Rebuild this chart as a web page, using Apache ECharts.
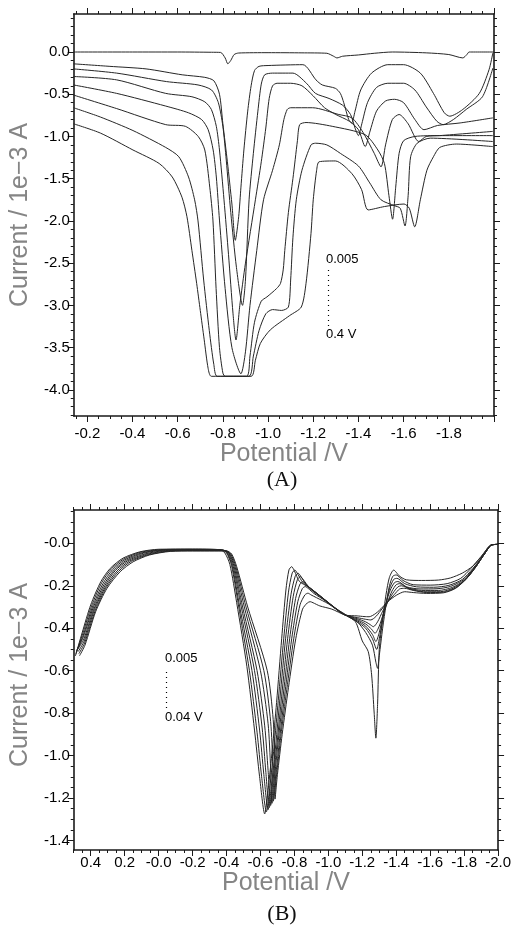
<!DOCTYPE html>
<html><head><meta charset="utf-8">
<script src="https://cdn.jsdelivr.net/npm/echarts@6/dist/echarts.min.js"></script>
<style>html,body{margin:0;padding:0;background:#fff}#c{width:514px;height:928px}</style>
</head><body><div id="c"></div>
<script>
// ---------- Panel A data (Potential V, Current 1e-3 A) ----------
const a0 = [[-0.139,0],[-0.40,0],[-0.60,0],[-0.75,-0.003],[-0.79,-0.005],[-0.81,-0.07],[-0.822,-0.14],[-0.835,-0.10],[-0.85,-0.03],[-0.87,-0.012],[-1.0,-0.008],[-1.15,-0.01],[-1.26,-0.015],[-1.29,-0.05],[-1.305,-0.07],[-1.33,-0.05],[-1.40,-0.035],[-1.47,-0.015],[-1.55,0],[-1.70,-0.01],[-1.80,-0.03],[-1.862,-0.07],[-1.88,-0.03],[-1.89,0],[-2.0,0]];
const a1 = [[-0.139,-0.14],[-0.30,-0.17],[-0.46,-0.20],[-0.62,-0.27],[-0.72,-0.30],[-0.76,-0.34],[-0.785,-0.50],[-0.80,-0.85],[-0.82,-1.3],[-0.84,-1.8],[-0.855,-2.23],[-0.87,-1.95],[-0.88,-1.6],[-0.893,-1.16],[-0.91,-0.7],[-0.925,-0.4],[-0.94,-0.22],[-0.96,-0.17],[-1.0,-0.16],[-1.154,-0.15],[-1.212,-0.33],[-1.24,-0.39],[-1.298,-0.43],[-1.32,-0.49],[-1.335,-0.60],[-1.357,-0.80],[-1.37,-0.84],[-1.385,-0.70],[-1.41,-0.45],[-1.458,-0.25],[-1.53,-0.15],[-1.60,-0.15],[-1.674,-0.25],[-1.732,-0.49],[-1.78,-0.72],[-1.804,-0.76],[-1.862,-0.68],[-1.935,-0.49],[-1.978,-0.21],[-1.995,-0.01]];
const a2 = [[-0.139,-0.20],[-0.33,-0.25],[-0.55,-0.35],[-0.69,-0.39],[-0.75,-0.45],[-0.78,-0.60],[-0.80,-0.88],[-0.815,-1.28],[-0.835,-1.9],[-0.86,-2.55],[-0.887,-3.0],[-0.90,-2.7],[-0.916,-1.75],[-0.935,-1.2],[-0.955,-0.7],[-0.97,-0.38],[-0.985,-0.27],[-1.02,-0.25],[-1.11,-0.25],[-1.17,-0.37],[-1.21,-0.49],[-1.27,-0.55],[-1.33,-0.63],[-1.365,-0.74],[-1.385,-0.90],[-1.40,-0.99],[-1.415,-0.85],[-1.44,-0.6],[-1.48,-0.42],[-1.53,-0.37],[-1.60,-0.37],[-1.65,-0.45],[-1.70,-0.65],[-1.747,-0.82],[-1.775,-0.86],[-1.82,-0.80],[-1.877,-0.68],[-1.949,-0.53],[-1.995,-0.19]];
const a3 = [[-0.139,-0.29],[-0.33,-0.33],[-0.547,-0.49],[-0.663,-0.53],[-0.72,-0.59],[-0.749,-0.68],[-0.771,-0.88],[-0.785,-1.16],[-0.805,-1.75],[-0.825,-2.4],[-0.845,-3.1],[-0.858,-3.41],[-0.875,-3.0],[-0.90,-2.5],[-0.944,-1.75],[-0.97,-1.3],[-0.99,-0.9],[-1.005,-0.55],[-1.02,-0.40],[-1.04,-0.37],[-1.10,-0.37],[-1.15,-0.40],[-1.20,-0.52],[-1.25,-0.66],[-1.30,-0.74],[-1.36,-0.82],[-1.40,-0.92],[-1.43,-1.12],[-1.45,-0.95],[-1.48,-0.70],[-1.52,-0.58],[-1.56,-0.56],[-1.60,-0.60],[-1.65,-0.80],[-1.69,-0.92],[-1.75,-0.87],[-1.85,-0.84],[-1.995,-0.78]];
const a4 = [[-0.139,-0.39],[-0.33,-0.49],[-0.547,-0.64],[-0.648,-0.72],[-0.706,-0.80],[-0.735,-0.92],[-0.757,-1.16],[-0.771,-1.48],[-0.785,-1.99],[-0.81,-2.8],[-0.84,-3.5],[-0.88,-3.81],[-0.90,-3.55],[-0.92,-3.0],[-0.95,-2.35],[-0.98,-1.75],[-1.02,-1.4],[-1.05,-1.1],[-1.07,-0.8],[-1.085,-0.68],[-1.10,-0.66],[-1.197,-0.66],[-1.313,-0.74],[-1.371,-0.78],[-1.42,-0.95],[-1.47,-1.2],[-1.50,-1.36],[-1.52,-1.1],[-1.55,-0.80],[-1.58,-0.74],[-1.62,-0.85],[-1.667,-1.06],[-1.70,-1.0],[-1.76,-0.99],[-1.995,-0.94]];
const a5 = [[-0.139,-0.51],[-0.33,-0.67],[-0.547,-0.86],[-0.634,-0.88],[-0.691,-1.0],[-0.72,-1.16],[-0.742,-1.6],[-0.756,-1.99],[-0.77,-2.8],[-0.785,-3.5],[-0.80,-3.8],[-0.81,-3.84],[-0.905,-3.84],[-0.92,-3.6],[-0.94,-3.2],[-0.97,-2.95],[-0.995,-2.9],[-1.038,-2.8],[-1.055,-2.74],[-1.067,-2.58],[-1.074,-2.35],[-1.09,-1.9],[-1.11,-1.5],[-1.13,-1.05],[-1.14,-0.86],[-1.168,-0.835],[-1.284,-0.88],[-1.43,-0.98],[-1.486,-1.16],[-1.515,-1.32],[-1.535,-1.7],[-1.551,-1.98],[-1.565,-1.6],[-1.58,-1.2],[-1.60,-1.05],[-1.65,-1.0],[-1.76,-0.99],[-1.995,-0.99]];
const a6 = [[-0.139,-0.66],[-0.258,-0.77],[-0.402,-0.93],[-0.547,-1.13],[-0.605,-1.24],[-0.648,-1.48],[-0.675,-1.75],[-0.69,-2.0],[-0.715,-2.7],[-0.74,-3.3],[-0.76,-3.7],[-0.775,-3.84],[-0.915,-3.84],[-0.935,-3.6],[-0.96,-3.3],[-0.99,-3.1],[-1.02,-3.05],[-1.06,-3.06],[-1.09,-3.02],[-1.10,-2.7],[-1.11,-2.2],[-1.125,-1.75],[-1.15,-1.4],[-1.19,-1.1],[-1.21,-1.08],[-1.26,-1.1],[-1.32,-1.2],[-1.40,-1.35],[-1.45,-1.55],[-1.50,-1.75],[-1.56,-1.82],[-1.585,-1.85],[-1.606,-2.06],[-1.62,-1.7],[-1.631,-1.24],[-1.66,-1.08],[-1.718,-1.02],[-1.995,-1.06]];
const a7 = [[-0.139,-0.85],[-0.258,-0.96],[-0.402,-1.16],[-0.518,-1.32],[-0.576,-1.48],[-0.619,-1.72],[-0.641,-1.95],[-0.663,-2.35],[-0.684,-2.74],[-0.70,-3.06],[-0.717,-3.4],[-0.735,-3.75],[-0.749,-3.84],[-0.925,-3.84],[-0.944,-3.65],[-0.966,-3.45],[-1.01,-3.29],[-1.096,-3.12],[-1.147,-3.02],[-1.168,-2.74],[-1.19,-2.15],[-1.20,-1.75],[-1.215,-1.4],[-1.226,-1.30],[-1.298,-1.29],[-1.371,-1.44],[-1.414,-1.63],[-1.443,-1.87],[-1.515,-1.83],[-1.602,-1.80],[-1.625,-1.85],[-1.649,-2.07],[-1.674,-1.75],[-1.703,-1.40],[-1.732,-1.24],[-1.76,-1.13],[-1.833,-1.09],[-1.995,-1.12]];

// ---------- Panel B data ----------
const b0 = [[0.49,-0.53],[0.45,-0.42],[0.40,-0.29],[0.34,-0.18],[0.285,-0.118],[0.21,-0.07],[0.11,-0.04],[0.0,-0.028],[-0.2,-0.027],[-0.36,-0.03],[-0.39,-0.045],[-0.42,-0.10],[-0.46,-0.28],[-0.52,-0.58],[-0.565,-0.88],[-0.595,-1.10],[-0.625,-1.275],[-0.645,-1.16],[-0.67,-0.97],[-0.695,-0.75],[-0.725,-0.45],[-0.75,-0.22],[-0.768,-0.125],[-0.784,-0.11],[-0.80,-0.13],[-0.83,-0.18],[-0.88,-0.205],[-1.03,-0.30],[-1.10,-0.335],[-1.16,-0.37],[-1.20,-0.46],[-1.235,-0.51],[-1.255,-0.62],[-1.27,-0.80],[-1.28,-0.918],[-1.29,-0.76],[-1.30,-0.50],[-1.32,-0.36],[-1.34,-0.24],[-1.36,-0.16],[-1.385,-0.126],[-1.42,-0.155],[-1.46,-0.172],[-1.55,-0.175],[-1.65,-0.173],[-1.72,-0.163],[-1.79,-0.14],[-1.85,-0.108],[-1.91,-0.055],[-1.955,-0.008],[-2.0,-0.005]];
const b1 = [[0.487,-0.52],[0.447,-0.425],[0.395,-0.295],[0.335,-0.185],[0.278,-0.12],[0.205,-0.074],[0.105,-0.042],[-0.01,-0.03],[-0.2,-0.028],[-0.37,-0.03],[-0.40,-0.045],[-0.43,-0.105],[-0.47,-0.29],[-0.535,-0.60],[-0.58,-0.89],[-0.607,-1.10],[-0.635,-1.265],[-0.655,-1.15],[-0.68,-0.96],[-0.705,-0.74],[-0.737,-0.45],[-0.765,-0.23],[-0.787,-0.14],[-0.803,-0.126],[-0.82,-0.145],[-0.85,-0.185],[-0.90,-0.215],[-1.05,-0.31],[-1.10,-0.337],[-1.17,-0.37],[-1.22,-0.42],[-1.26,-0.48],[-1.28,-0.56],[-1.29,-0.589],[-1.30,-0.53],[-1.32,-0.40],[-1.34,-0.29],[-1.36,-0.20],[-1.38,-0.155],[-1.40,-0.149],[-1.44,-0.175],[-1.50,-0.195],[-1.60,-0.197],[-1.70,-0.19],[-1.78,-0.165],[-1.84,-0.118],[-1.90,-0.062],[-1.955,-0.01],[-2.0,-0.005]];
const b2 = [[0.484,-0.51],[0.445,-0.435],[0.39,-0.30],[0.328,-0.19],[0.27,-0.123],[0.198,-0.077],[0.098,-0.045],[-0.02,-0.031],[-0.2,-0.029],[-0.375,-0.031],[-0.405,-0.046],[-0.435,-0.11],[-0.478,-0.30],[-0.55,-0.60],[-0.595,-0.88],[-0.62,-1.09],[-0.645,-1.255],[-0.665,-1.14],[-0.69,-0.95],[-0.715,-0.73],[-0.748,-0.45],[-0.78,-0.24],[-0.805,-0.155],[-0.822,-0.141],[-0.84,-0.158],[-0.87,-0.195],[-0.92,-0.228],[-1.06,-0.318],[-1.10,-0.338],[-1.17,-0.37],[-1.22,-0.40],[-1.26,-0.45],[-1.285,-0.50],[-1.30,-0.45],[-1.32,-0.36],[-1.34,-0.285],[-1.36,-0.215],[-1.385,-0.17],[-1.405,-0.165],[-1.45,-0.19],[-1.52,-0.205],[-1.62,-0.207],[-1.71,-0.198],[-1.79,-0.17],[-1.85,-0.12],[-1.91,-0.06],[-1.955,-0.01],[-2.0,-0.005]];
const b3 = [[0.48,-0.50],[0.443,-0.44],[0.386,-0.305],[0.322,-0.195],[0.262,-0.126],[0.19,-0.08],[0.09,-0.047],[-0.03,-0.032],[-0.2,-0.03],[-0.38,-0.032],[-0.41,-0.047],[-0.44,-0.11],[-0.487,-0.30],[-0.565,-0.60],[-0.61,-0.87],[-0.632,-1.08],[-0.652,-1.245],[-0.672,-1.13],[-0.698,-0.94],[-0.725,-0.72],[-0.76,-0.45],[-0.793,-0.25],[-0.818,-0.17],[-0.835,-0.157],[-0.853,-0.172],[-0.885,-0.205],[-0.94,-0.24],[-1.07,-0.325],[-1.10,-0.338],[-1.17,-0.365],[-1.22,-0.39],[-1.26,-0.43],[-1.28,-0.463],[-1.30,-0.42],[-1.32,-0.345],[-1.34,-0.28],[-1.365,-0.22],[-1.39,-0.185],[-1.41,-0.18],[-1.46,-0.205],[-1.54,-0.215],[-1.64,-0.214],[-1.72,-0.203],[-1.80,-0.17],[-1.86,-0.115],[-1.92,-0.05],[-1.96,-0.008],[-2.0,-0.005]];
const b4 = [[0.477,-0.50],[0.44,-0.45],[0.382,-0.31],[0.317,-0.2],[0.255,-0.128],[0.182,-0.082],[0.08,-0.05],[-0.04,-0.034],[-0.2,-0.032],[-0.385,-0.033],[-0.415,-0.048],[-0.445,-0.11],[-0.495,-0.30],[-0.58,-0.60],[-0.625,-0.86],[-0.645,-1.07],[-0.66,-1.235],[-0.68,-1.12],[-0.705,-0.93],[-0.735,-0.71],[-0.772,-0.45],[-0.807,-0.26],[-0.833,-0.192],[-0.851,-0.181],[-0.868,-0.193],[-0.90,-0.22],[-0.96,-0.255],[-1.08,-0.33],[-1.10,-0.338],[-1.17,-0.36],[-1.22,-0.38],[-1.255,-0.405],[-1.275,-0.424],[-1.30,-0.39],[-1.325,-0.33],[-1.35,-0.275],[-1.375,-0.225],[-1.40,-0.195],[-1.42,-0.19],[-1.47,-0.21],[-1.55,-0.222],[-1.65,-0.222],[-1.73,-0.208],[-1.80,-0.175],[-1.86,-0.115],[-1.92,-0.05],[-1.96,-0.008],[-2.0,-0.005]];
const b5 = [[0.474,-0.51],[0.438,-0.46],[0.378,-0.313],[0.312,-0.204],[0.245,-0.13],[0.172,-0.084],[0.07,-0.052],[-0.05,-0.036],[-0.2,-0.034],[-0.39,-0.034],[-0.42,-0.05],[-0.45,-0.11],[-0.505,-0.30],[-0.60,-0.60],[-0.645,-0.85],[-0.66,-1.06],[-0.668,-1.225],[-0.688,-1.11],[-0.713,-0.92],[-0.745,-0.70],[-0.784,-0.45],[-0.82,-0.275],[-0.847,-0.213],[-0.864,-0.204],[-0.882,-0.213],[-0.915,-0.236],[-0.98,-0.27],[-1.09,-0.335],[-1.10,-0.338],[-1.17,-0.355],[-1.22,-0.37],[-1.25,-0.385],[-1.265,-0.393],[-1.29,-0.37],[-1.32,-0.32],[-1.35,-0.275],[-1.38,-0.235],[-1.41,-0.205],[-1.43,-0.2],[-1.48,-0.215],[-1.56,-0.228],[-1.66,-0.228],[-1.74,-0.21],[-1.81,-0.17],[-1.87,-0.11],[-1.92,-0.05],[-1.96,-0.008],[-2.0,-0.005]];
const b6 = [[0.47,-0.52],[0.436,-0.47],[0.374,-0.318],[0.308,-0.208],[0.236,-0.132],[0.161,-0.085],[0.062,-0.054],[-0.06,-0.037],[-0.2,-0.035],[-0.395,-0.035],[-0.425,-0.05],[-0.455,-0.11],[-0.515,-0.30],[-0.62,-0.60],[-0.66,-0.84],[-0.673,-1.05],[-0.676,-1.215],[-0.694,-1.10],[-0.72,-0.91],[-0.755,-0.69],[-0.796,-0.45],[-0.833,-0.29],[-0.862,-0.243],[-0.88,-0.235],[-0.898,-0.243],[-0.93,-0.256],[-1.0,-0.285],[-1.10,-0.338],[-1.17,-0.35],[-1.22,-0.358],[-1.25,-0.361],[-1.28,-0.345],[-1.32,-0.305],[-1.35,-0.275],[-1.39,-0.24],[-1.42,-0.215],[-1.45,-0.212],[-1.50,-0.222],[-1.58,-0.232],[-1.68,-0.23],[-1.75,-0.21],[-1.81,-0.17],[-1.87,-0.11],[-1.92,-0.05],[-1.96,-0.008],[-2.0,-0.005]];
const b7 = [[0.466,-0.53],[0.434,-0.48],[0.371,-0.322],[0.304,-0.212],[0.227,-0.134],[0.15,-0.087],[0.054,-0.055],[-0.07,-0.038],[-0.2,-0.036],[-0.40,-0.036],[-0.43,-0.05],[-0.46,-0.11],[-0.525,-0.30],[-0.64,-0.60],[-0.675,-0.83],[-0.685,-1.04],[-0.686,-1.205],[-0.70,-1.09],[-0.728,-0.90],[-0.765,-0.68],[-0.808,-0.45],[-0.848,-0.31],[-0.876,-0.281],[-0.893,-0.275],[-0.91,-0.28],[-0.95,-0.295],[-1.02,-0.31],[-1.10,-0.338],[-1.17,-0.342],[-1.21,-0.345],[-1.24,-0.346],[-1.28,-0.33],[-1.32,-0.30],[-1.35,-0.275],[-1.40,-0.245],[-1.45,-0.228],[-1.50,-0.232],[-1.58,-0.236],[-1.68,-0.233],[-1.75,-0.212],[-1.81,-0.17],[-1.87,-0.11],[-1.92,-0.05],[-1.96,-0.008],[-2.0,-0.005]];

// ---------- ticks ----------
const aXTicks = [-2.0,-1.8,-1.6,-1.4,-1.2,-1.0,-0.8,-0.6,-0.4,-0.2];
const aXLabels = ['','-1.8','-1.6','-1.4','-1.2','-1.0','-0.8','-0.6','-0.4','-0.2'];
const aYTicks = [0.0,-0.5,-1.0,-1.5,-2.0,-2.5,-3.0,-3.5,-4.0];
const aYLabels = ['0.0','-0.5','-1.0','-1.5','-2.0','-2.5','-3.0','-3.5','-4.0'];
const bXTicks = [-2.0,-1.8,-1.6,-1.4,-1.2,-1.0,-0.8,-0.6,-0.4,-0.2,0.0,0.2,0.4];
const bXLabels = ['-2.0','-1.8','-1.6','-1.4','-1.2','-1.0','-0.8','-0.6','-0.4','-0.2','-0.0','0.2','0.4'];
const bYTicks = [0.0,-0.2,-0.4,-0.6,-0.8,-1.0,-1.2,-1.4];
const bYLabels = ['-0.0','-0.2','-0.4','-0.6','-0.8','-1.0','-1.2','-1.4'];

const aX = {min:-2.0, max:-0.14}, aY = {min:-4.31, max:0.45};
const bX = {min:-2.0, max:0.5}, bY = {min:-1.445, max:0.157};

function steps(lo, hi, st){ const r=[]; for(let v=Math.ceil(lo/st-1e-6)*st; v<=hi+1e-9; v+=st) r.push(+v.toFixed(4)); return r; }
function labelOf(ticks, labels){ return v => { const i = ticks.findIndex(t=>Math.abs(t-v)<1e-6); return i>=0?labels[i]:''; }; }

const FRAME = {color:'#1a1a1a', width:1.6};
const TICKC = {color:'#1a1a1a', width:1};
const FONT = 'Liberation Sans, Arial, sans-serif';

function xAxes(g, rng, ticks, labels, minorStep, nameGap, labelMargin){
  const minor = steps(rng.min, rng.max, minorStep);
  const base = {gridIndex:g, type:'value', min:rng.min, max:rng.max, inverse:true, splitLine:{show:false}};
  return [
    Object.assign({}, base, {position:'bottom', axisLine:{show:true,onZero:false,lineStyle:FRAME},
      axisTick:{show:true,inside:false,length:6,customValues:ticks,lineStyle:TICKC},
      axisLabel:{show:true,customValues:ticks,formatter:labelOf(ticks,labels),fontSize:15,color:'#000',fontFamily:FONT,margin:labelMargin,hideOverlap:false},
      name:'Potential /V', nameLocation:'middle', nameGap:nameGap,
      nameTextStyle:{fontSize:25,color:'#858585',fontFamily:FONT}}),
    Object.assign({}, base, {position:'bottom', axisLine:{show:false,onZero:false},
      axisTick:{show:true,inside:false,length:3,customValues:minor,lineStyle:TICKC}, axisLabel:{show:false}}),
    Object.assign({}, base, {position:'top', axisLine:{show:true,onZero:false,lineStyle:FRAME},
      axisTick:{show:true,inside:false,length:6,customValues:ticks,lineStyle:TICKC}, axisLabel:{show:false}}),
    Object.assign({}, base, {position:'top', axisLine:{show:false,onZero:false},
      axisTick:{show:true,inside:false,length:3,customValues:minor,lineStyle:TICKC}, axisLabel:{show:false}})
  ];
}
function yAxes(g, rng, ticks, labels, minorStep, nameGap, namePad){
  const minor = steps(rng.min, rng.max, minorStep);
  const base = {gridIndex:g, type:'value', min:rng.min, max:rng.max, splitLine:{show:false}};
  return [
    Object.assign({}, base, {position:'left', axisLine:{show:true,onZero:false,lineStyle:FRAME},
      axisTick:{show:true,inside:false,length:6,customValues:ticks,lineStyle:TICKC},
      axisLabel:{show:true,customValues:ticks,formatter:labelOf(ticks,labels),fontSize:15,color:'#000',fontFamily:FONT,margin:4},
      name:'Current / 1e\u22123 A', nameLocation:'middle', nameGap:nameGap, nameRotate:90,
      nameTextStyle:{fontSize:25,color:'#858585',fontFamily:FONT,padding:namePad}}),
    Object.assign({}, base, {position:'left', axisLine:{show:false,onZero:false},
      axisTick:{show:true,inside:false,length:3,customValues:minor,lineStyle:TICKC}, axisLabel:{show:false}}),
    Object.assign({}, base, {position:'right', axisLine:{show:true,onZero:false,lineStyle:FRAME},
      axisTick:{show:true,inside:false,length:6,customValues:ticks,lineStyle:TICKC}, axisLabel:{show:false}}),
    Object.assign({}, base, {position:'right', axisLine:{show:false,onZero:false},
      axisTick:{show:true,inside:false,length:3,customValues:minor,lineStyle:TICKC}, axisLabel:{show:false}})
  ];
}

const lineStyle = {color:'#262626', width:1};
function mk(data, xi, yi){ return {type:'line', data:data, xAxisIndex:xi, yAxisIndex:yi, showSymbol:false, symbol:'none', smooth:0.25, lineStyle:lineStyle, silent:true, clip:true, animation:false}; }

const seriesA = [a0,a1,a2,a3,a4,a5,a6,a7].map(d=>mk(d,0,0));
const seriesB = [b0,b1,b2,b3,b4,b5,b6,b7].map(d=>mk(d,4,4));

const chart = echarts.init(document.getElementById('c'), null, {renderer:'canvas'});
chart.setOption({
  animation:false,
  backgroundColor:'#fff',
  grid:[{left:66,right:20,top:14,height:402},{left:66,right:15,top:510,height:340}],
  xAxis: xAxes(0,aX,aXTicks,aXLabels,0.05,22,10).concat(xAxes(1,bX,bXTicks,bXLabels,0.05,15,5)),
  yAxis: yAxes(0,aY,aYTicks,aYLabels,0.1,36,[0,0,0,0]).concat(yAxes(1,bY,bYTicks,bYLabels,0.05,36,[0,0,0,10])),
  series: seriesA.concat(seriesB),
  graphic:[
    {type:'text', left:326, top:253, style:{text:'0.005', fontSize:13, fill:'#000', fontFamily:FONT}},
    {type:'line', shape:{x1:328.5,y1:270,x2:328.5,y2:326}, style:{stroke:'#000', lineWidth:1.2, lineDash:[1,4]}},
    {type:'text', left:326, top:328, style:{text:'0.4 V', fontSize:13, fill:'#000', fontFamily:FONT}},
    {type:'text', left:165, top:652, style:{text:'0.005', fontSize:13, fill:'#000', fontFamily:FONT}},
    {type:'line', shape:{x1:166.5,y1:672,x2:166.5,y2:708}, style:{stroke:'#000', lineWidth:1.2, lineDash:[1,4]}},
    {type:'text', left:165, top:711, style:{text:'0.04 V', fontSize:13, fill:'#000', fontFamily:FONT}},
    {type:'text', x:282, y:480, style:{text:'(A)', fontSize:22, fill:'#111', fontFamily:'Liberation Serif, DejaVu Serif, serif', align:'center', verticalAlign:'middle'}},
    {type:'text', x:282, y:914, style:{text:'(B)', fontSize:22, fill:'#111', fontFamily:'Liberation Serif, DejaVu Serif, serif', align:'center', verticalAlign:'middle'}}
  ]
});
</script>
</body></html>
